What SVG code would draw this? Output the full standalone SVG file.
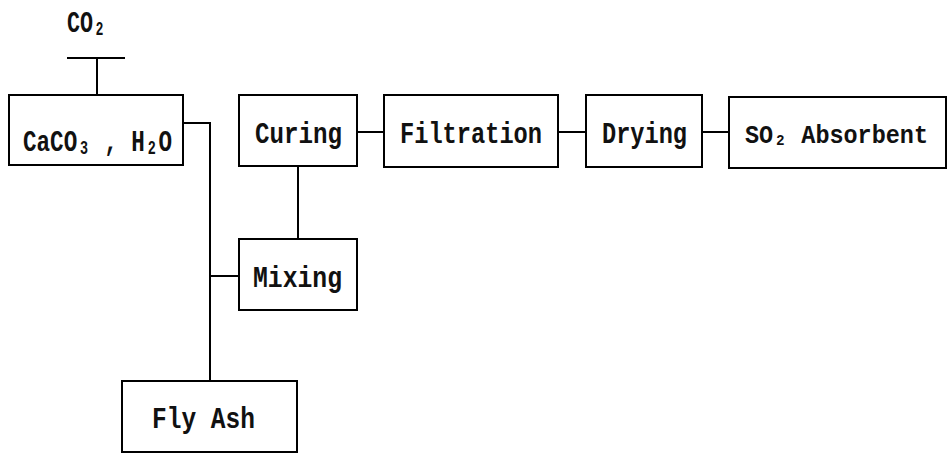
<svg xmlns="http://www.w3.org/2000/svg" width="949" height="454" viewBox="0 0 949 454">
<style>
.box{fill:none;stroke:#000;stroke-width:2}
.ln{fill:none;stroke:#000;stroke-width:2}
text{font-family:"Liberation Mono","DejaVu Sans Mono",monospace;font-weight:bold;font-size:30px;fill:#111}
.sm{font-size:25px}
</style>
<rect width="949" height="454" fill="#fff"/>
<g id="connectors">
<path class="ln" d="M67 58H125M97 58V95"/>
<path class="ln" d="M183 123H210V381"/>
<path class="ln" d="M210 276H239"/>
<path class="ln" d="M298 166V239"/>
<path class="ln" d="M357 132H384"/>
<path class="ln" d="M558 132H586"/>
<path class="ln" d="M702 132H729"/>
</g>
<g id="co2">
<text x="67" y="32" textLength="39" lengthAdjust="spacingAndGlyphs">CO₂</text>
</g>
<g id="caco3">
<rect class="box" x="9" y="95" width="174" height="70"/>
<text x="23" y="151" textLength="149" lengthAdjust="spacingAndGlyphs">CaCO₃ , H₂O</text>
</g>
<g id="curing">
<rect class="box" x="239" y="95" width="118" height="71"/>
<text x="255" y="143" textLength="87" lengthAdjust="spacingAndGlyphs">Curing</text>
</g>
<g id="filtration">
<rect class="box" x="384" y="95" width="174" height="72"/>
<text x="400" y="143" textLength="142" lengthAdjust="spacingAndGlyphs">Filtration</text>
</g>
<g id="drying">
<rect class="box" x="586" y="95" width="116" height="72"/>
<text x="602" y="143" textLength="85" lengthAdjust="spacingAndGlyphs">Drying</text>
</g>
<g id="so2">
<rect class="box" x="729" y="97" width="217" height="71"/>
<text class="sm" x="745" y="143" textLength="183" lengthAdjust="spacingAndGlyphs">SO₂ Absorbent</text>
</g>
<g id="mixing">
<rect class="box" x="239" y="239" width="118" height="71"/>
<text x="253" y="287" textLength="89" lengthAdjust="spacingAndGlyphs">Mixing</text>
</g>
<g id="flyash">
<rect class="box" x="122" y="381" width="175" height="71"/>
<text x="152" y="428" textLength="103" lengthAdjust="spacingAndGlyphs">Fly Ash</text>
</g>
</svg>
